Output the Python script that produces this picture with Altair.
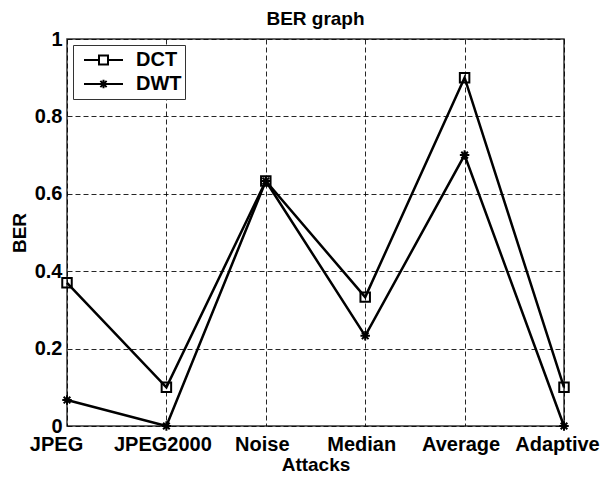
import altair as alt
import pandas as pd

attacks = ["JPEG", "JPEG2000", "Noise", "Median", "Average", "Adaptive"]
dct_ber = [0.37, 0.10, 0.633, 0.333, 0.90, 0.10]
dwt_ber = [0.067, 0.0, 0.633, 0.233, 0.70, 0.0]
series_names = ["DCT", "DWT"]
y_ticks = [0, 0.2, 0.4, 0.6, 0.8, 1]

rows = []
for s, vals in zip(series_names, [dct_ber, dwt_ber]):
    for a, v in zip(attacks, vals):
        rows.append({"Attack": a, "BER": v, "Series": s})
df = pd.DataFrame(rows)

FONT = "Liberation Sans"
ASTERISK = "M0,-1V1M-1,0H1M-0.7,-0.7L0.7,0.7M-0.7,0.7L0.7,-0.7"
LEG_DCT = "M-1,0H-0.23M0.23,0H1M-0.23,-0.23H0.23V0.23H-0.23Z"
LEG_DWT = "M-1,0H1M0,-0.22V0.22M-0.16,-0.16L0.16,0.16M-0.16,0.16L0.16,-0.16"

x = alt.X(
    "Attack:N",
    sort=attacks,
    scale=alt.Scale(type="point", padding=0),
    axis=alt.Axis(
        title="Attacks",
        labelAngle=0,
        labelPadding=8,
        titlePadding=1,
        labelOffset={
            "condition": [
                {"test": "datum.value === 'JPEG'", "value": -11},
                {"test": "datum.value === 'Adaptive'", "value": -7},
            ],
            "value": -4,
        },
    ),
)
y = alt.Y(
    "BER:Q",
    scale=alt.Scale(domain=[0, 1], nice=False),
    axis=alt.Axis(title="BER", values=y_ticks, format="~g", labelPadding=5, titlePadding=5),
)

lines = alt.Chart(df).mark_line(color="black", strokeWidth=2.5).encode(
    x=x, y=y, detail="Series:N"
)

points = alt.Chart(df).mark_point(
    filled=False, color="black", strokeWidth=2, size=90, opacity=1
).encode(
    x=x,
    y=y,
    shape=alt.Shape(
        "Series:N",
        scale=alt.Scale(domain=series_names, range=["square", ASTERISK]),
        legend=None,
    ),
)

legend_layer = (
    alt.Chart(df)
    .transform_filter("datum.BER > 1")
    .mark_point(filled=False, color="black", strokeWidth=2, size=1521, opacity=1)
    .encode(
        x=x,
        y=y,
        shape=alt.Shape(
            "Series:N",
            scale=alt.Scale(domain=series_names, range=[LEG_DCT, LEG_DWT]),
            legend=alt.Legend(
                title=None,
                orient="top-left",
                offset=6,
                padding=3,
                clipHeight=24,
                rowPadding=0,
                symbolOffset=7,
                labelOffset=12,
                symbolSize=1521,
                symbolStrokeWidth=2,
                symbolStrokeColor="black",
                labelFont=FONT,
                labelFontSize=20,
                labelFontWeight="bold",
                labelColor="black",
                labelExpr="datum.label + '\u00a0\u00a0\u00a0\u00a0'",
                strokeColor="#333",
                fillColor="white",
            ),
        ),
    )
)

chart = (
    alt.layer(lines, points, legend_layer)
    .resolve_scale(shape="independent")
    .properties(
        width=497,
        height=387,
        background="white",
        title=alt.Title(
            "BER graph",
            font=FONT,
            fontSize=19,
            fontWeight="bold",
            color="black",
            anchor="middle",
            frame="group",
            offset=0,
        ),
        autosize=alt.AutoSizeParams(type="none"),
        padding={"left": 59, "top": 31, "right": 36, "bottom": 49},
    )
    .configure_view(stroke="#333", strokeWidth=1.5)
    .configure_axis(
        grid=True,
        gridColor="black",
        gridDash=[5, 3],
        gridWidth=1,
        gridOpacity=0.85,
        ticks=False,
        domain=False,
        labelFont=FONT,
        labelFontSize=20,
        labelFontWeight="bold",
        labelColor="black",
        titleFont=FONT,
        titleFontSize=19,
        titleFontWeight="bold",
        titleColor="black",
    )
)

chart.save("out.html", embed_options={"renderer": "svg", "actions": False})
